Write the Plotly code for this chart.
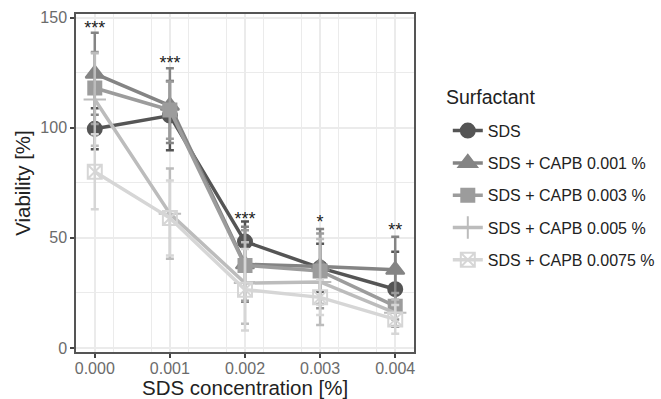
import plotly.graph_objects as go

conc = [0.000, 0.001, 0.002, 0.003, 0.004]
series = ["SDS", "SDS + CAPB 0.001 %", "SDS + CAPB 0.003 %", "SDS + CAPB 0.005 %", "SDS + CAPB 0.0075 %"]
sds = [99.5, 105.5, 48.3, 36.4, 26.7]
sds_sd = [9.3, 15.7, 9.1, 10.9, 17.0]
capb001 = [124.5, 110.0, 38.0, 37.0, 35.5]
capb001_sd = [18.6, 17.0, 17.0, 17.0, 15.0]
capb003 = [118.0, 108.0, 37.5, 35.0, 19.0]
capb003_sd = [16.3, 13.0, 16.0, 17.0, 6.0]
capb005 = [112.8, 61.0, 29.5, 30.0, 16.0]
capb005_sd = [21.0, 20.5, 18.5, 19.5, 6.0]
capb0075 = [80.0, 59.0, 26.5, 23.0, 13.0]
capb0075_sd = [17.0, 17.0, 18.5, 8.0, 6.5]
sig_labels = ["***", "***", "***", "*", "**"]
sig_y = [144.5, 128.5, 58.0, 56.5, 53.0]

values = [sds, capb001, capb003, capb005, capb0075]
sds_list = [sds_sd, capb001_sd, capb003_sd, capb005_sd, capb0075_sd]
colors = ["#555555", "#848484", "#9c9c9c", "#bcbcbc", "#d6d6d6"]
symbols = ["circle", "triangle-up", "square", "cross-thin-open", "square-x-open"]
msizes = [14, 16, 13, 16, 14]

FONT = "Liberation Sans, Arial"

fig = go.Figure()
for i, name in enumerate(series):
    fig.add_trace(go.Scatter(
        x=conc, y=values[i], name=name, mode="lines+markers",
        line=dict(color=colors[i], width=3.5),
        marker=dict(symbol=symbols[i], size=msizes[i], color=colors[i],
                    line=dict(color=colors[i], width=2)),
        error_y=dict(type="data", array=sds_list[i], color=colors[i],
                     thickness=2.5, width=4),
        legendgroup=name,
    ))

fig.add_trace(go.Scatter(
    x=conc, y=sig_y, mode="text", text=sig_labels, showlegend=False,
    textfont=dict(size=18, color="#222222", family=FONT),
    hoverinfo="skip",
))

axis_common = dict(
    showline=True, mirror=True, linecolor="#555555", linewidth=1.5,
    ticks="outside", ticklen=4, tickwidth=2, tickcolor="#444444",
    gridcolor="#ebebeb", gridwidth=1.5, zeroline=False, automargin=False,
    tickfont=dict(size=16, color="#6b6b6b", family=FONT),
    minor=dict(showgrid=True, gridcolor="#ebebeb", gridwidth=1),
)

fig.update_layout(
    width=661, height=399,
    margin=dict(l=76, r=247, t=14, b=47, autoexpand=False),
    paper_bgcolor="white", plot_bgcolor="white",
    font=dict(family=FONT, color="#222222"),
    xaxis=dict(range=[-0.00025, 0.00425], tickvals=conc, tickformat=".3f",
               ticklabelstandoff=-3, **axis_common),
    yaxis=dict(range=[-1.8, 151.6], tickvals=[0, 50, 100, 150],
               title=dict(text="Viability [%]", font=dict(size=20.5, color="#222222"), standoff=4),
               **axis_common),
    legend=dict(
        x=1.10, y=0.705, xanchor="left", yanchor="top",
        font=dict(size=16, color="#222222"),
        tracegroupgap=8.5, itemwidth=30,
    ),
    showlegend=True,
    annotations=[
        dict(text="Surfactant", xref="paper", yref="paper",
             x=1.09, y=0.755, xanchor="left", yanchor="middle",
             showarrow=False, font=dict(size=19.5, color="#222222")),
        dict(text="SDS concentration [%]", xref="paper", yref="paper",
             x=0.5, y=-0.0, yshift=-35, xanchor="center", yanchor="middle",
             showarrow=False, font=dict(size=20.5, color="#222222")),
    ],
)
fig.update_xaxes(minor=dict(dtick=0.0005, tick0=0.00025))
fig.update_yaxes(minor=dict(dtick=25, tick0=25))

fig.write_html("out.html")
